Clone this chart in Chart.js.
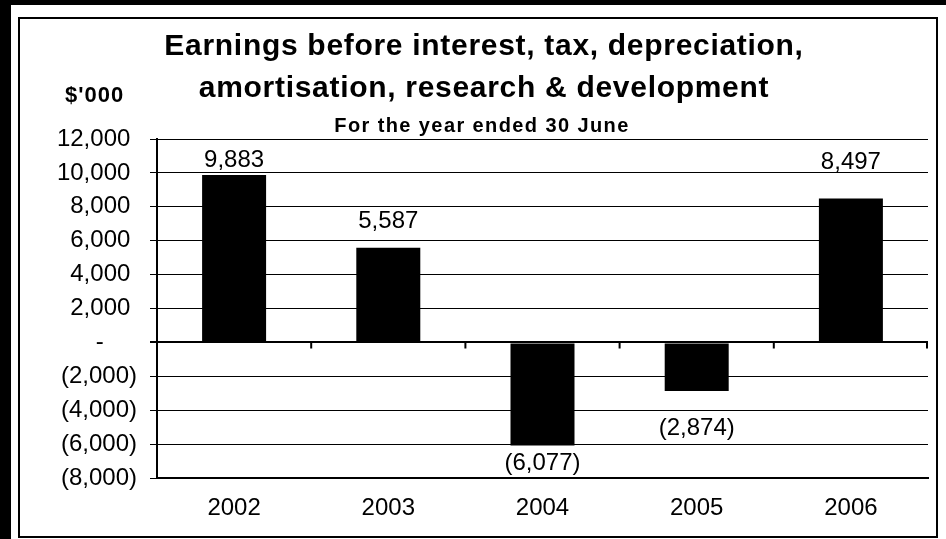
<!DOCTYPE html>
<html>
<head>
<meta charset="utf-8">
<script src="https://cdn.jsdelivr.net/npm/chart.js@4.4.1/dist/chart.umd.min.js"></script>
<style>
    html, body { margin: 0; padding: 0; background: #000; width: 946px; height: 539px; overflow: hidden; }
    #panel { position: absolute; left: 11px; top: 5px; width: 935px; height: 534px; background: #fff; }
    #frame { position: absolute; left: 18px; top: 17px; width: 916px; height: 517px; border: 2px solid #000; }
    #ebitChart { position: absolute; left: 0; top: 0; }
</style>
</head>
<body>
<div id="panel"></div>
<div id="frame"></div>
<canvas id="ebitChart" width="946" height="539"></canvas>
<script>
// chart data
const years = ['2002', '2003', '2004', '2005', '2006'];
const earnings = [9883, 5587, -6077, -2874, 8497];
const yMin = -8000;
const yMax = 12000;
const yStep = 2000;
const titleLines = ['Earnings before interest, tax, depreciation,', 'amortisation, research & development'];
const subtitleText = 'For the year ended 30 June';
const unitText = "$'000";

// distance (px) from bar end to the label baseline, labels were moved by hand in the original
const labelGap = [8, 20, 25, 44, 29];

const FONT = '"Liberation Sans", Arial, sans-serif';
Chart.defaults.font.family = FONT;
Chart.defaults.color = '#000';

function fmt(v) {
    return Math.abs(v).toLocaleString('en-US');
}

// accounting style labels: 12,000 / - / (2,000)
function tickLabel(v) {
    if (v > 0) return fmt(v) + ' ';
    if (v < 0) return '(' + fmt(v) + ')';
    return '-     ';
}

const headings = {
    id: 'headings',
    afterDraw(chart) {
        const ctx = chart.ctx;
        ctx.save();
        ctx.fillStyle = '#000';
        ctx.textBaseline = 'alphabetic';
        ctx.textAlign = 'center';
        ctx.font = 'bold 30px ' + FONT;
        ctx.letterSpacing = '0.7px';
        ctx.fillText(titleLines[0], 484, 55);
        ctx.fillText(titleLines[1], 484, 97);
        ctx.font = 'bold 20px ' + FONT;
        ctx.letterSpacing = '1.4px';
        ctx.fillText(subtitleText, 482, 132);
        ctx.textAlign = 'left';
        ctx.font = 'bold 22px ' + FONT;
        ctx.letterSpacing = '1px';
        ctx.fillText(unitText, 65, 102);
        ctx.restore();
    }
};

const barExtras = {
    id: 'barExtras',
    afterDatasetsDraw(chart) {
        const { ctx, chartArea, scales: { x, y } } = chart;
        const zero = y.getPixelForValue(0);
        ctx.save();
        // little tick marks hanging under the zero line between categories
        ctx.strokeStyle = '#000';
        ctx.lineWidth = 2;
        ctx.beginPath();
        for (let i = 1; i <= years.length; i++) {
            const px = i < years.length
                ? (x.getPixelForValue(i - 1) + x.getPixelForValue(i)) / 2
                : chartArea.right - 1;
            ctx.moveTo(px, zero);
            ctx.lineTo(px, zero + 6);
        }
        ctx.stroke();

        // value labels
        ctx.font = '24px ' + FONT;
        ctx.fillStyle = '#000';
        ctx.textAlign = 'center';
        ctx.textBaseline = 'alphabetic';
        chart.getDatasetMeta(0).data.forEach((bar, i) => {
            const v = earnings[i];
            const txt = v < 0 ? '(' + fmt(v) + ')' : fmt(v);
            const ty = v >= 0 ? bar.y - labelGap[i] : bar.y + labelGap[i];
            ctx.fillText(txt, bar.x, ty);
        });
        ctx.restore();
    }
};

new Chart(document.getElementById('ebitChart'), {
    type: 'bar',
    data: {
        labels: years,
        datasets: [{
            data: earnings,
            backgroundColor: '#000',
            borderWidth: 0,
            barPercentage: 0.415,
            categoryPercentage: 1
        }]
    },
    options: {
        responsive: false,
        animation: false,
        layout: { padding: { left: 0, right: 18, top: 139, bottom: 21 } },
        plugins: {
            legend: { display: false },
            tooltip: { enabled: false },
            title: { display: false }
        },
        scales: {
            x: {
                ticks: { color: '#000', font: { size: 24 }, padding: 16 },
                grid: { display: false, drawTicks: false },
                border: { display: true, color: '#000', width: 2 },
                afterFit(scale) { scale.height = 40; }
            },
            y: {
                min: yMin,
                max: yMax,
                ticks: {
                    stepSize: yStep,
                    color: '#000',
                    font: { size: 24 },
                    padding: 13,
                    callback: tickLabel
                },
                grid: {
                    color: '#000',
                    lineWidth: c => (c.tick && c.tick.value === 0 ? 2 : 1),
                    tickLength: 7
                },
                border: { display: true, color: '#000', width: 2 },
                afterFit(scale) { scale.width = 157; }
            }
        }
    },
    plugins: [barExtras, headings]
});
</script>
</body>
</html>
